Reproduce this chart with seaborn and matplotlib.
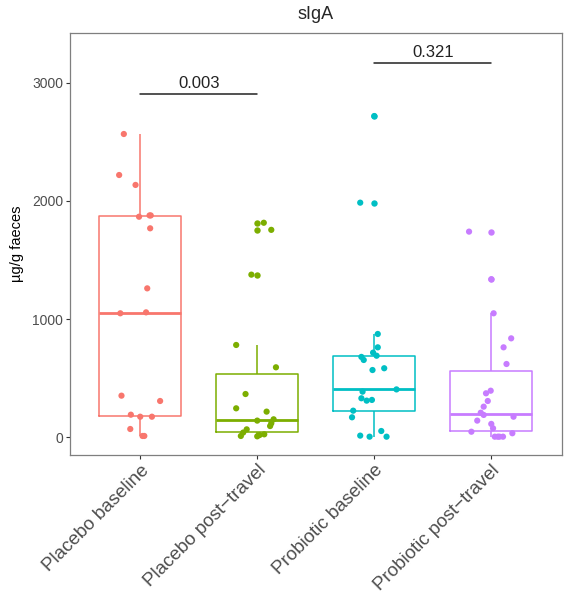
import numpy as np
import pandas as pd
import seaborn as sns
import matplotlib.pyplot as plt

# ---- data ----
groups = ["Placebo baseline", "Placebo post\u2212travel",
          "Probiotic baseline", "Probiotic post\u2212travel"]
colors = ["#F8766D", "#7CAE00", "#00BFC4", "#C77CFF"]

placebo_base = [2566, 2219, 2135, 1866, 1877, 1877, 1768, 1260, 1049, 1057,
                352, 307, 191, 174, 174, 70, 11, 11]
placebo_base_jit = [-0.14, -0.18, -0.04, -0.01, 0.08, 0.09, 0.085, 0.06, -0.17, 0.05,
                    -0.16, 0.17, -0.08, 0.0, 0.10, -0.085, 0.02, 0.035]

placebo_post = [1815, 1755, 1376, 781, 592, 366, 245, 217, 152, 141,
                118, 95, 67, 40, 11, 19, 25, 8]
placebo_post_jit = [0.056, 0.12, -0.05, -0.18, 0.16, -0.10, -0.18, 0.08, 0.14, 0.0,
                    0.12, 0.11, -0.09, -0.12, -0.14, 0.02, 0.06, 0.0]

probiotic_base = [2718, 1985, 874, 761, 716, 690, 680, 654, 569, 584,
                  405, 386, 330, 310, 316, 225, 169, 14, 5, 53, 5]
probiotic_base_jit = [0.0, -0.12, 0.03, 0.03, -0.01, 0.02, -0.11, -0.09, -0.015, 0.085,
                      0.19, -0.10, -0.11, -0.065, -0.02, -0.18, -0.19, -0.12, -0.04, 0.06, 0.105]

probiotic_post = [1740, 1337, 1049, 837, 761, 620, 394, 372, 307, 259,
                  208, 189, 174, 141, 113, 76, 47, 34, 5, 5, 5, 5]
probiotic_post_jit = [-0.19, 0.0, 0.02, 0.17, 0.105, 0.13, -0.005, -0.045, -0.03, -0.065,
                      -0.09, -0.065, 0.19, -0.12, 0.0, 0.015, -0.17, 0.18, 0.055, 0.07, 0.10, 0.03]

comparisons = [(0, 1), (2, 3)]
bracket_y = [2902, 3164]
p_labels = ["0.003", "0.321"]

title = "sIgA"
ylabel = "\u00b5g/g faeces"
yticks = [0, 1000, 2000, 3000]

# ---- build table ----
series = [placebo_base, placebo_post, probiotic_base, probiotic_post]
jits = [placebo_base_jit, placebo_post_jit, probiotic_base_jit, probiotic_post_jit]
rows = []
for i, (vals, jj) in enumerate(zip(series, jits)):
    for v, j in zip(vals, jj):
        rows.append({"pos": i, "value": v, "jit": j})
df = pd.DataFrame(rows)
df["xj"] = df["pos"] + df["jit"]

sns.set_style("white")
plt.rcParams["font.family"] = ["Liberation Sans", "DejaVu Sans"]

fig = plt.figure(figsize=(5.67, 6.0), dpi=100)
ax = fig.add_axes([70 / 567, 1 - 455 / 600, (561.5 - 70) / 567, (455 - 33.3) / 600])

sns.boxplot(data=df, x="pos", y="value", hue="pos", palette=colors, fill=False,
            width=0.7, linewidth=1.1, showcaps=False, legend=False, ax=ax,
            whis=1.5,
            medianprops={"linewidth": 2.0},
            flierprops={"marker": "o", "markersize": 4.6, "markeredgewidth": 0})
# colour the outlier dots like their box
for ln in ax.lines:
    if ln.get_marker() == "o":
        xd = np.asarray(ln.get_xdata(), dtype=float)
        if len(xd):
            c = colors[int(round(xd.mean()))]
            ln.set_markerfacecolor(c)
            ln.set_markeredgecolor(c)

sns.scatterplot(data=df, x="xj", y="value", hue="pos", palette=colors, s=20,
                edgecolor="none", linewidth=0, legend=False, ax=ax, zorder=3)

for (a, b), yv, lab in zip(comparisons, bracket_y, p_labels):
    ax.plot([a, b], [yv, yv], color="#222222", lw=1.1)
    ax.text((a + b) / 2, yv + 30, lab, ha="center", va="bottom", fontsize=12, color="#222222")

ax.set_xlim(-0.6, 3.6)
ax.set_ylim(-150, 3418)
ax.set_yticks(yticks)
ax.set_yticklabels([str(t) for t in yticks], fontsize=10)
ax.set_xticks(range(len(groups)))
ax.set_xticklabels(groups, rotation=45, ha="right", rotation_mode="anchor", fontsize=13.5)
ax.set_xlabel("")
ax.set_ylabel(ylabel, fontsize=10.5, color="black", labelpad=6)
ax.set_title(title, fontsize=13, pad=10)

for s in ax.spines.values():
    s.set_visible(True)
    s.set_color("#7f7f7f")
    s.set_linewidth(0.9)
ax.tick_params(axis="both", length=3, width=0.8, color="#333333", labelcolor="#4D4D4D",
               left=True, bottom=True, pad=2)
ax.grid(False)

fig.savefig("out.png", dpi=100)
